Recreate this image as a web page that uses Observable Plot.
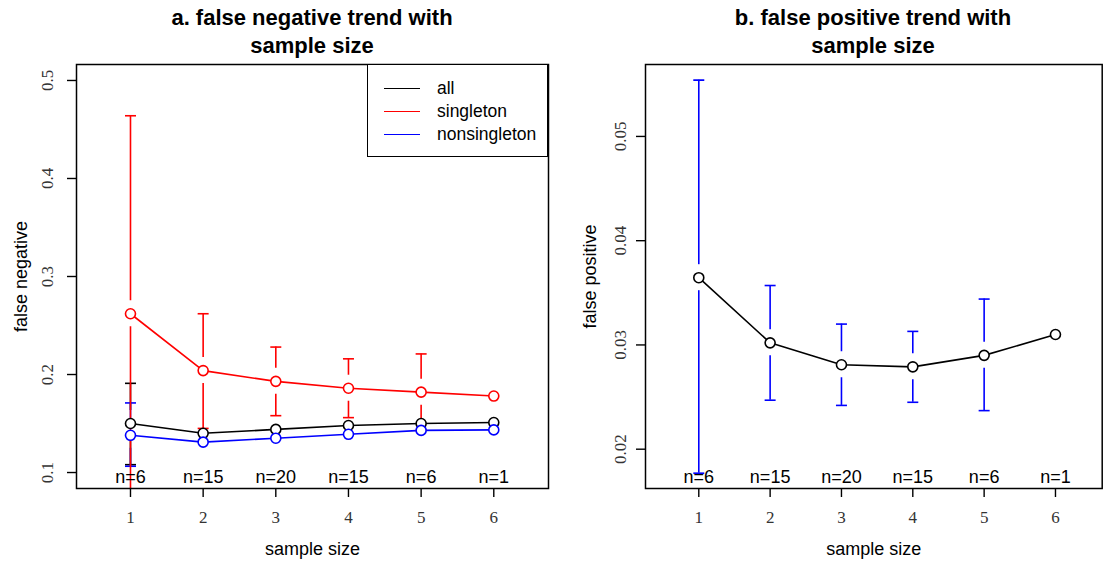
<!DOCTYPE html>
<html><head><meta charset="utf-8">
<script src="https://cdn.jsdelivr.net/npm/d3@7"></script>
<script src="https://cdn.jsdelivr.net/npm/@observablehq/plot@0.6"></script>
<style>
body{margin:0;background:#fff;}
#wrap{position:relative;width:1113px;height:565px;overflow:hidden;font-family:"Liberation Sans",Arial,sans-serif;background:#fff;}
.panel{position:absolute;top:0;}
.title{position:absolute;top:4px;width:500px;font-weight:bold;font-size:22px;text-align:center;line-height:28px;color:#000;}
#legend{position:absolute;left:367px;top:64px;width:179px;height:91px;border:1.5px solid #000;background:#fff;font-size:17.5px;}
.item{position:absolute;left:16px;height:20px;}
.item span.sw{position:absolute;left:0;top:10px;width:36px;height:0;border-top:1.5px solid;}
.item span.lb{position:absolute;left:53px;top:0;line-height:20px;white-space:nowrap;}
</style></head><body><div id="wrap"></div>
<script>
// ---- data ----
const sampleSize = [1, 2, 3, 4, 5, 6];
const nLabels = ["n=6", "n=15", "n=20", "n=15", "n=6", "n=1"];

// panel a: false negative
const fnAllMean = [0.150, 0.140, 0.144, 0.148, 0.150, 0.151];
const fnAllUpper = [0.191, null, null, null, null, null];
const fnAllLower = [0.108, null, null, null, null, null];
const fnSingletonMean = [0.262, 0.204, 0.193, 0.186, 0.182, 0.178];
const fnSingletonUpper = [0.464, 0.262, 0.228, 0.216, 0.221, null];
const fnSingletonLower = [0.060, 0.145, 0.158, 0.156, 0.143, null];
const fnNonsingletonMean = [0.138, 0.131, 0.135, 0.139, 0.143, 0.1435];
const fnNonsingletonUpper = [0.171, null, null, null, null, null];
const fnNonsingletonLower = [0.1064, null, null, null, null, null];
const fnTicks = [0.1, 0.2, 0.3, 0.4, 0.5];

// panel b: false positive
const fpMean = [0.03645, 0.0302, 0.0281, 0.0279, 0.0290, 0.0310];
const fpUpper = [0.0554, 0.0357, 0.0320, 0.0313, 0.0344, null];
const fpLower = [0.0177, 0.0247, 0.0242, 0.0245, 0.0237, null];
const fpTicks = [0.02, 0.03, 0.04, 0.05];

const legendNames = ["all", "singleton", "nonsingleton"];
const legendColors = ["#000000", "#ff0000", "#0000ff"];

// ---- helpers ----
function rows(mean, upper, lower) {
  return sampleSize.map((x, i) => ({x, mean: mean[i], upper: upper[i], lower: lower[i]}));
}
const capSymbol = {draw(ctx, size) { const r = Math.sqrt(size / Math.PI); ctx.moveTo(-r, 0); ctx.lineTo(r, 0); }};
const GAP = 13;

function seriesMarks(data, lineColor, barColor) {
  const up = data.filter(d => d.upper != null);
  const lo = data.filter(d => d.lower != null);
  return [
    Plot.line(data, {x: "x", y: "mean", stroke: lineColor, strokeWidth: 1.6}),
    Plot.ruleX(up, {x: "x", y1: "upper", y2: "mean", insetBottom: GAP, stroke: barColor, strokeWidth: 1.6, clip: true}),
    Plot.ruleX(lo, {x: "x", y1: "mean", y2: "lower", insetTop: GAP, stroke: barColor, strokeWidth: 1.6, clip: true}),
    Plot.dot(up, {x: "x", y: "upper", symbol: capSymbol, r: 5.5, stroke: barColor, strokeWidth: 1.6, fill: "none", clip: true}),
    Plot.dot(lo, {x: "x", y: "lower", symbol: capSymbol, r: 5.5, stroke: barColor, strokeWidth: 1.6, fill: "none", clip: true})
  ];
}
function dotMarks(data, color) {
  return Plot.dot(data, {x: "x", y: "mean", r: 5, stroke: color, strokeWidth: 1.6, fill: "white"});
}

const serif = "Liberation Serif, DejaVu Serif, serif";

function panel({width, marginLeft, marginRight, xDomain, yDomain, yTicks, tickDx, ylabel, marks}) {
  return Plot.plot({
    width, height: 565,
    marginLeft, marginRight, marginTop: 64, marginBottom: 77,
    x: {domain: xDomain, axis: null},
    y: {domain: yDomain, axis: null},
    style: {fontFamily: "Liberation Sans, Arial, sans-serif", fontSize: "17px", color: "#000", background: "white", overflow: "visible"},
    marks: [
      Plot.axisY({ticks: yTicks, tickSize: 9, tickFormat: () => "", label: null, strokeWidth: 1.4}),
      Plot.axisX({ticks: sampleSize, tickSize: 9, tickFormat: () => "", label: null, strokeWidth: 1.4}),
      Plot.text(yTicks, {y: d => d, text: d => String(d), frameAnchor: "left", dx: tickDx, rotate: -90, textAnchor: "middle", lineAnchor: "middle", fontFamily: serif, fontSize: 17, fill: "#333"}),
      Plot.text(sampleSize, {x: d => d, text: d => String(d), frameAnchor: "bottom", dy: 29, textAnchor: "middle", lineAnchor: "middle", fontFamily: serif, fontSize: 17, fill: "#333"}),
      Plot.text(["sample size"], {text: d => d, frameAnchor: "bottom", dy: 61, textAnchor: "middle", lineAnchor: "middle", fontSize: 18}),
      Plot.text([ylabel], {text: d => d, frameAnchor: "left", dx: -55, rotate: -90, textAnchor: "middle", lineAnchor: "middle", fontSize: 18}),
      ...marks,
      Plot.text(sampleSize, {x: d => d, text: (d, i) => nLabels[i], frameAnchor: "bottom", dy: -11, textAnchor: "middle", lineAnchor: "middle", fontSize: 18}),
      Plot.frame({stroke: "black", strokeWidth: 1.5})
    ]
  });
}

const fnAll = rows(fnAllMean, fnAllUpper, fnAllLower);
const fnSing = rows(fnSingletonMean, fnSingletonUpper, fnSingletonLower);
const fnNon = rows(fnNonsingletonMean, fnNonsingletonUpper, fnNonsingletonLower);
const fp = rows(fpMean, fpUpper, fpLower);

const left = panel({
  width: 556, marginLeft: 76, marginRight: 8,
  xDomain: [0.257, 6.753], yDomain: [0.0837, 0.5163], yTicks: fnTicks, tickDx: -29,
  ylabel: "false negative",
  marks: [
    ...seriesMarks(fnAll, legendColors[0], legendColors[0]),
    ...seriesMarks(fnNon, legendColors[2], legendColors[2]),
    ...seriesMarks(fnSing, legendColors[1], legendColors[1]),
    dotMarks(fnAll, legendColors[0]),
    dotMarks(fnNon, legendColors[2]),
    dotMarks(fnSing, legendColors[1])
  ]
});
const right = panel({
  width: 557, marginLeft: 89, marginRight: 11.3,
  xDomain: [0.253, 6.655], yDomain: [0.01623, 0.0569], yTicks: fpTicks, tickDx: -25,
  ylabel: "false positive",
  marks: [
    ...seriesMarks(fp, "#000000", "#0000ff"),
    dotMarks(fp, "#000000")
  ]
});

const wrap = document.getElementById("wrap");
left.classList.add("panel"); left.style.left = "0px";
right.classList.add("panel"); right.style.left = "556px";
wrap.appendChild(left);
wrap.appendChild(right);

function addTitle(text, center) {
  const t = document.createElement("div");
  t.className = "title";
  t.innerHTML = text;
  t.style.left = (center - 250) + "px";
  wrap.appendChild(t);
}
addTitle("a. false negative trend with<br>sample size", 312);
addTitle("b. false positive trend with<br>sample size", 873);

const lg = document.createElement("div");
lg.id = "legend";
legendNames.forEach((name, i) => {
  const it = document.createElement("div");
  it.className = "item";
  it.style.top = (13 + i * 23) + "px";
  it.innerHTML = `<span class="sw" style="border-color:${legendColors[i]}"></span><span class="lb">${name}</span>`;
  lg.appendChild(it);
});
wrap.appendChild(lg);
</script>
</body></html>
